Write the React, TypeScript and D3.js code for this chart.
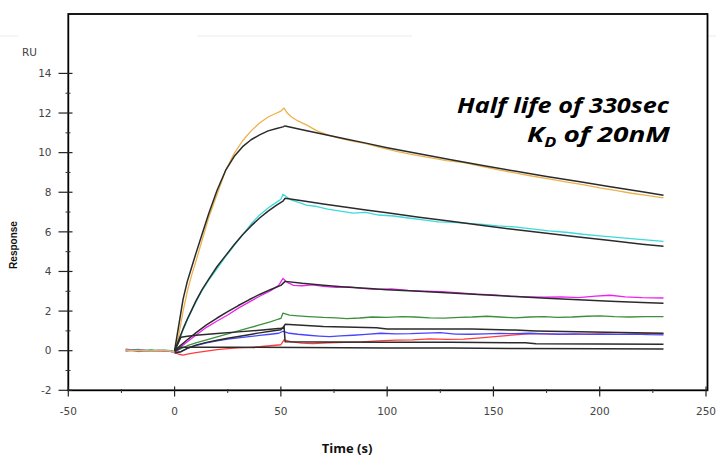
import React from "react";
import * as d3 from "d3";

type P = [number, number];

// ---- tick values ----
const xMajorTicks = [-50, 0, 50, 100, 150, 200, 250];
const xMinorTicks = [-25, 25, 75, 125, 175, 225];
const yMajorTicks = [-2, 0, 2, 4, 6, 8, 10, 12, 14];
const yMinorTicks = [-1, 1, 3, 5, 7, 9, 11, 13];

// ---- measured sensorgrams (time s, response RU) ----
const orangeData: P[] = [
  [-23, 0.03], [-19, 0.0], [-15, 0.02], [-11, -0.02], [-7, 0.01], [-3, 0.0], [0, -0.08],
  [2, 0.8], [4, 2.0], [6, 3.0], [8, 3.8], [10, 4.5], [13, 5.6], [16, 6.7], [20, 7.9], [24, 9.1],
  [28, 9.95], [32, 10.6], [36, 11.1], [40, 11.5], [44, 11.8], [48, 12.0], [50, 12.1], [51.5, 12.25],
  [53, 12.0], [55, 11.8], [58, 11.6], [62, 11.4], [67, 11.1], [72, 10.9], [77, 10.75], [83, 10.6],
  [90, 10.45], [97, 10.25], [105, 10.05], [112, 9.9], [120, 9.75], [128, 9.6], [136, 9.5],
  [145, 9.3], [153, 9.12], [160, 8.98], [168, 8.82], [176, 8.68], [184, 8.52], [192, 8.38],
  [200, 8.22], [208, 8.08], [215, 7.95], [222, 7.84], [230, 7.72],
];
const cyanData: P[] = [
  [-23, 0.0], [-18, 0.02], [-13, -0.01], [-8, 0.02], [-3, 0.0], [0, -0.05],
  [2, 0.45], [4, 1.05], [6, 1.55], [8, 2.0], [10, 2.45], [13, 3.05], [16, 3.55], [20, 4.15],
  [24, 4.75], [28, 5.3], [32, 5.85], [36, 6.4], [40, 6.85], [44, 7.2], [48, 7.5], [50, 7.65],
  [51, 7.9], [53, 7.75], [55, 7.6], [58, 7.5], [62, 7.35], [67, 7.28], [72, 7.15], [78, 7.05],
  [84, 6.95], [90, 6.98], [96, 6.85], [103, 6.8], [110, 6.7], [117, 6.6], [124, 6.5],
  [131, 6.48], [138, 6.43], [145, 6.38], [152, 6.3], [160, 6.25], [168, 6.15], [176, 6.05],
  [184, 5.98], [192, 5.88], [200, 5.8], [208, 5.72], [216, 5.65], [223, 5.58], [230, 5.52],
];
const magentaData: P[] = [
  [-23, 0.05], [-19, 0.0], [-15, 0.03], [-11, -0.02], [-7, 0.02], [-3, -0.01], [0, -0.1],
  [3, 0.2], [6, 0.45], [10, 0.78], [15, 1.18], [20, 1.5], [25, 1.8], [30, 2.15], [35, 2.45],
  [40, 2.75], [45, 3.02], [49, 3.3], [51, 3.65], [53, 3.45], [56, 3.3], [60, 3.28], [65, 3.32],
  [70, 3.25], [76, 3.2], [82, 3.22], [88, 3.15], [95, 3.1], [102, 3.12], [110, 3.05], [118, 3.0],
  [126, 2.98], [134, 2.92], [142, 2.85], [150, 2.82], [158, 2.75], [166, 2.72], [174, 2.7],
  [182, 2.72], [190, 2.68], [198, 2.75], [205, 2.8], [212, 2.72], [220, 2.68], [230, 2.66],
];
const greenData: P[] = [
  [-23, 0.08], [-20, 0.04], [-17, 0.06], [-14, 0.02], [-11, 0.04], [-8, 0.0], [-5, 0.03],
  [-2, 0.0], [0, -0.05], [3, 0.1], [6, 0.25], [10, 0.4], [15, 0.55], [20, 0.7], [25, 0.85],
  [30, 1.0], [35, 1.15], [40, 1.3], [45, 1.45], [49, 1.6], [50, 1.63], [51, 1.9], [54, 1.8],
  [58, 1.76], [63, 1.72], [70, 1.68], [76, 1.66], [81, 1.62], [87, 1.65], [93, 1.7], [100, 1.68],
  [107, 1.72], [113, 1.7], [120, 1.66], [127, 1.64], [134, 1.68], [140, 1.7], [147, 1.74],
  [153, 1.7], [160, 1.66], [167, 1.7], [174, 1.72], [180, 1.68], [187, 1.7], [194, 1.74],
  [200, 1.76], [207, 1.72], [214, 1.7], [221, 1.72], [230, 1.72],
];
const blueData: P[] = [
  [-23, 0.0], [-20, 0.03], [-17, -0.02], [-14, 0.01], [-11, -0.03], [-8, 0.02], [-5, -0.01],
  [-2, 0.0], [0, -0.1], [3, -0.05], [6, 0.12], [10, 0.26], [15, 0.4], [20, 0.5], [25, 0.58],
  [30, 0.65], [35, 0.71], [40, 0.77], [45, 0.83], [49, 0.88], [51, 0.98], [54, 0.88], [58, 0.83],
  [63, 0.78], [68, 0.74], [73, 0.71], [78, 0.75], [84, 0.78], [90, 0.82], [97, 0.88], [104, 0.85],
  [111, 0.86], [118, 0.89], [125, 0.91], [132, 0.84], [139, 0.83], [146, 0.85], [153, 0.87],
  [160, 0.86], [167, 0.88], [174, 0.85], [181, 0.83], [188, 0.85], [195, 0.82], [202, 0.84],
  [209, 0.82], [216, 0.84], [223, 0.81], [230, 0.8],
];
const redData: P[] = [
  [-23, -0.02], [-20, 0.02], [-17, -0.04], [-14, 0.0], [-11, -0.03], [-8, 0.01], [-5, -0.02],
  [-2, 0.0], [0, -0.08], [2, -0.18], [4, -0.22], [6, -0.17], [10, -0.1], [15, -0.02], [20, 0.05],
  [25, 0.1], [30, 0.14], [35, 0.17], [40, 0.2], [45, 0.25], [50, 0.3], [51.5, 0.55], [55, 0.45],
  [60, 0.38], [65, 0.36], [72, 0.4], [80, 0.42], [88, 0.45], [96, 0.5], [104, 0.53], [112, 0.55],
  [120, 0.6], [128, 0.57], [136, 0.58], [144, 0.65], [152, 0.72], [160, 0.8], [168, 0.86],
  [176, 0.85], [184, 0.82], [192, 0.84], [200, 0.85], [208, 0.82], [216, 0.84], [223, 0.86],
  [230, 0.85],
];

// ---- fitted curves ----
const fitA: P[] = [
  [0, 0], [2, 1.3], [4, 2.6], [6, 3.5], [8, 4.2], [10, 4.9], [13, 5.9], [16, 6.9], [20, 8.1],
  [24, 9.1], [28, 9.8], [32, 10.3], [36, 10.65], [40, 10.9], [44, 11.1], [48, 11.22], [51, 11.3],
  [52, 11.35], [60, 11.16], [70, 10.93], [80, 10.7], [90, 10.48], [100, 10.25], [115, 9.94],
  [130, 9.64], [145, 9.35], [160, 9.07], [175, 8.8], [190, 8.54], [205, 8.28], [220, 8.03],
  [230, 7.85],
];
const fitB: P[] = [
  [0, 0], [2, 0.55], [4, 1.1], [6, 1.6], [8, 2.05], [10, 2.5], [13, 3.1], [16, 3.6], [20, 4.25],
  [24, 4.8], [28, 5.35], [32, 5.85], [36, 6.3], [40, 6.7], [44, 7.05], [48, 7.35], [51, 7.55],
  [52, 7.7], [60, 7.57], [70, 7.41], [80, 7.26], [90, 7.1], [100, 6.96], [115, 6.74], [130, 6.53],
  [145, 6.32], [160, 6.12], [175, 5.93], [190, 5.74], [205, 5.56], [220, 5.38], [230, 5.27],
];
const fitC: P[] = [
  [0, 0], [3, 0.28], [6, 0.55], [10, 0.9], [15, 1.3], [20, 1.65], [25, 1.97], [30, 2.28],
  [35, 2.57], [40, 2.84], [45, 3.08], [50, 3.3], [52, 3.5], [60, 3.4], [70, 3.31], [80, 3.22],
  [90, 3.15], [100, 3.08], [115, 3.0], [130, 2.91], [145, 2.82], [160, 2.73], [175, 2.65],
  [190, 2.57], [205, 2.5], [220, 2.43], [230, 2.4],
];
const fitD: P[] = [
  [0, 0], [2, 0.45], [3, 0.68], [6, 0.73], [10, 0.78], [20, 0.87], [30, 0.95], [40, 1.03],
  [50, 1.13], [51, 1.15], [52, 1.33], [60, 1.28], [70, 1.22], [80, 1.2], [95, 1.16], [100, 1.1],
  [120, 1.1], [140, 1.1], [160, 1.04], [170, 1.0], [190, 0.95], [210, 0.92], [230, 0.88],
];
const fitE: P[] = [
  [0, -0.12], [3, -0.05], [6, 0.12], [10, 0.28], [15, 0.42], [20, 0.53], [25, 0.63], [30, 0.72],
  [35, 0.81], [40, 0.9], [45, 0.98], [50, 1.06], [51.5, 1.22], [52, 0.45], [70, 0.44],
  [100, 0.42], [130, 0.42], [165, 0.4], [170, 0.35], [200, 0.34], [230, 0.33],
];
const fitF: P[] = [
  [0, -0.05], [3, 0.17], [30, 0.17], [60, 0.16], [100, 0.14], [130, 0.13], [160, 0.11],
  [200, 0.1], [230, 0.09],
];

const dataSeries: { pts: P[]; color: string }[] = [
  { pts: greenData, color: "#3d8f3d" },
  { pts: redData, color: "#ff3b3b" },
  { pts: blueData, color: "#4646ff" },
  { pts: magentaData, color: "#f020f0" },
  { pts: cyanData, color: "#3cdada" },
  { pts: orangeData, color: "#ecb24c" },
];
const fitSeries: P[][] = [fitF, fitE, fitD, fitC, fitB, fitA];

const W = 716;
const H = 459;
const left = 68.3;
const right = 706;
const top = 14;
const bottom = 390.3;

export default function App() {
  const x = d3.scaleLinear().domain([-50, 250]).range([left, right]);
  const y = d3.scaleLinear().domain([-2, 17]).range([bottom, top]);
  const line = d3
    .line<P>()
    .x((d) => x(d[0]))
    .y((d) => y(d[1]));

  const tickFont = "'DejaVu Sans', 'Liberation Sans', Arial, sans-serif";

  return (
    <svg
      width={W}
      height={H}
      viewBox={`0 0 ${W} ${H}`}
      style={{ position: "absolute", left: 0, top: 0, background: "#fff" }}
    >
      <rect x={0} y={0} width={W} height={H} fill="#fff" />
      {/* faint artefact lines */}
      <line x1={0} x2={18} y1={36} y2={36} stroke="#ececec" strokeWidth={1} />
      <line x1={197} x2={412} y1={36} y2={36} stroke="#ececec" strokeWidth={1} />
      <line x1={708} x2={716} y1={36} y2={36} stroke="#ececec" strokeWidth={1} />

      {/* data */}
      {dataSeries.map((s, i) => (
        <path
          key={"d" + i}
          d={line(s.pts) || ""}
          fill="none"
          stroke={s.color}
          strokeWidth={1.3}
          strokeLinejoin="round"
        />
      ))}
      {/* fits */}
      {fitSeries.map((s, i) => (
        <path
          key={"f" + i}
          d={line(s) || ""}
          fill="none"
          stroke="#2b2b2b"
          strokeWidth={1.5}
          strokeLinejoin="round"
        />
      ))}

      {/* frame */}
      <rect
        x={left}
        y={top}
        width={right + 1.5 - left}
        height={bottom - top}
        fill="none"
        stroke="#000"
        strokeWidth={1.8}
      />

      {/* y ticks */}
      {yMajorTicks.map((v) => (
        <g key={"ym" + v}>
          <line x1={58.5} x2={72.5} y1={y(v)} y2={y(v)} stroke="#222" strokeWidth={1.2} />
          <text
            x={51.5}
            y={y(v)}
            dy="0.36em"
            textAnchor="end"
            fontFamily={tickFont}
            fontSize={10.5}
            fill="#444"
          >
            {v}
          </text>
        </g>
      ))}
      {yMinorTicks.map((v) => (
        <line key={"yn" + v} x1={65.5} x2={70.5} y1={y(v)} y2={y(v)} stroke="#333" strokeWidth={1} />
      ))}

      {/* x ticks */}
      {xMajorTicks.map((v) => (
        <g key={"xm" + v}>
          <line x1={x(v)} x2={x(v)} y1={386.5} y2={396.5} stroke="#222" strokeWidth={1.2} />
          <text
            x={x(v)}
            y={415}
            textAnchor="middle"
            fontFamily={tickFont}
            fontSize={10.5}
            fill="#444"
          >
            {v}
          </text>
        </g>
      ))}
      {xMinorTicks.map((v) => (
        <line key={"xn" + v} x1={x(v)} x2={x(v)} y1={389} y2={393} stroke="#333" strokeWidth={1} />
      ))}

      {/* axis labels */}
      <text x={22} y={56} fontFamily={tickFont} fontSize={10.5} fill="#444">
        RU
      </text>
      <text
        transform="translate(16.5,245) rotate(-90)"
        textAnchor="middle"
        fontFamily="'Liberation Sans', Arial, sans-serif"
        fontWeight="bold"
        fontSize={10}
        fill="#111"
      >
        Response
      </text>
      <text
        x={347}
        y={453}
        textAnchor="middle"
        fontFamily="'Open Sans', sans-serif"
        fontWeight="bold"
        fontSize={13}
        fill="#111"
      >
        Time (s)
      </text>

      {/* annotation */}
      <text
        x={669}
        y={113}
        textAnchor="end"
        fontFamily="'Open Sans', sans-serif"
        fontWeight="bold"
        fontStyle="italic"
        fontSize={22}
        textLength={212}
        lengthAdjust="spacingAndGlyphs"
        fill="#000"
      >
        Half life of 330sec
      </text>
      <text
        x={527}
        y={142}
        fontFamily="'Open Sans', sans-serif"
        fontWeight="bold"
        fontStyle="italic"
        fontSize={22}
        textLength={143}
        lengthAdjust="spacingAndGlyphs"
        fill="#000"
      >
        K
        <tspan fontSize={14} dy={5}>
          D
        </tspan>
        <tspan dy={-5}> of 20nM</tspan>
      </text>
    </svg>
  );
}
